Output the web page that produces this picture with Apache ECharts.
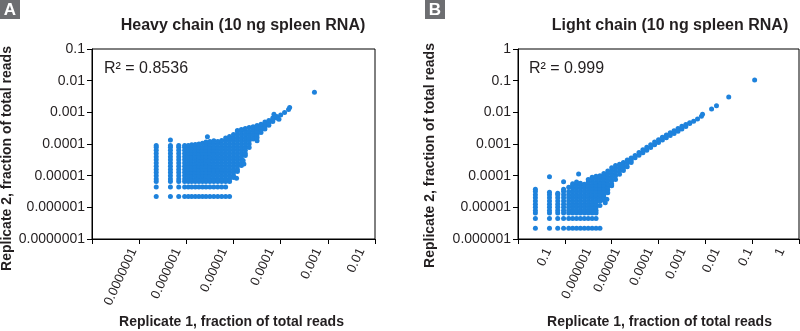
<!DOCTYPE html>
<html>
<head>
<meta charset="utf-8">
<script src="https://cdn.jsdelivr.net/npm/echarts@6/dist/echarts.min.js"></script>
<style>
  html, body { margin: 0; padding: 0; background: #fff; }
  #chart { width: 800px; height: 331px; }
</style>
</head>
<body>
<div id="chart"></div>
<script>
// Replicate read fractions, grouped by Replicate 1 value: [x, [y values...]]
const heavyColumns = [
  [2.3e-6, [2.2e-6, 4.4e-6, 6.6e-6, 7.9e-6, 1e-5, 1.26e-5, 1.58e-5, 2e-5, 2.51e-5, 3.16e-5, 3.98e-5, 5.01e-5, 6.31e-5, 7.94e-5, 9e-5]],
  [4.6e-6, [2.2e-6, 4.4e-6, 6.6e-6, 7.9e-6, 1e-5, 1.26e-5, 1.58e-5, 2e-5, 2.51e-5, 3.16e-5, 3.98e-5, 5.01e-5, 6.31e-5, 7.94e-5, 9e-5, 1.34e-4]],
  [6.9e-6, [2.2e-6, 4.4e-6, 6.6e-6, 7.9e-6, 1e-5, 1.26e-5, 1.58e-5, 2e-5, 2.51e-5, 3.16e-5, 3.98e-5, 5.01e-5, 6.31e-5, 7.94e-5, 9e-5]],
  [9.2e-6, [2.2e-6, 4.4e-6, 6.6e-6, 7.9e-6, 1e-5, 1.26e-5, 1.58e-5, 2e-5, 2.51e-5, 3.16e-5, 3.98e-5, 5.01e-5, 6.31e-5, 7.94e-5, 8.9e-5]],
  [1.1e-5, [2.2e-6, 4.4e-6, 6.6e-6, 7.9e-6, 1e-5, 1.26e-5, 1.58e-5, 2e-5, 2.51e-5, 3.16e-5, 3.98e-5, 5.01e-5, 6.31e-5, 7.94e-5, 8.9e-5]],
  [1.3e-5, [2.2e-6, 4.4e-6, 6.6e-6, 7.9e-6, 1e-5, 1.26e-5, 1.58e-5, 2e-5, 2.51e-5, 3.16e-5, 3.98e-5, 5.01e-5, 6.31e-5, 7.94e-5, 9.4e-5]],
  [1.55e-5, [2.2e-6, 4.4e-6, 6.6e-6, 7.9e-6, 1e-5, 1.26e-5, 1.58e-5, 2e-5, 2.51e-5, 3.16e-5, 3.98e-5, 5.01e-5, 6.31e-5, 7.94e-5, 9.7e-5]],
  [1.85e-5, [2.2e-6, 4.4e-6, 6.6e-6, 7.9e-6, 1e-5, 1.26e-5, 1.58e-5, 2e-5, 2.51e-5, 3.16e-5, 3.98e-5, 5.01e-5, 6.31e-5, 7.94e-5, 1e-4]],
  [2.2e-5, [2.2e-6, 4.4e-6, 6.6e-6, 7.9e-6, 1e-5, 1.26e-5, 1.58e-5, 2e-5, 2.51e-5, 3.16e-5, 3.98e-5, 5.01e-5, 6.31e-5, 7.94e-5, 1.05e-4]],
  [2.61e-5, [2.2e-6, 4.4e-6, 6.6e-6, 7.9e-6, 1e-5, 1.26e-5, 1.58e-5, 2e-5, 2.51e-5, 3.16e-5, 3.98e-5, 5.01e-5, 6.31e-5, 7.94e-5, 1e-4, 1.15e-4]],
  [3.16e-5, [2.2e-6, 4.4e-6, 6.6e-6, 7.9e-6, 1e-5, 1.26e-5, 1.58e-5, 2e-5, 2.51e-5, 3.16e-5, 3.98e-5, 5.01e-5, 6.31e-5, 7.94e-5, 1e-4, 1.2e-4]],
  [3.83e-5, [2.2e-6, 4.4e-6, 6.6e-6, 7.9e-6, 1e-5, 1.26e-5, 1.58e-5, 2e-5, 2.51e-5, 3.16e-5, 3.98e-5, 5.01e-5, 6.31e-5, 7.94e-5, 1e-4, 1.26e-4]],
  [4.64e-5, [2.2e-6, 4.4e-6, 6.6e-6, 7.9e-6, 1e-5, 1.26e-5, 1.58e-5, 2e-5, 2.51e-5, 3.16e-5, 3.98e-5, 5.01e-5, 6.31e-5, 7.94e-5, 1e-4, 1.2e-4]],
  [5.62e-5, [2.2e-6, 4.4e-6, 6.6e-6, 7.9e-6, 1e-5, 1.26e-5, 1.58e-5, 2e-5, 2.51e-5, 3.16e-5, 3.98e-5, 5.01e-5, 6.31e-5, 7.94e-5, 1e-4, 1.29e-4]],
  [6.81e-5, [2.2e-6, 4.4e-6, 6.6e-6, 7.9e-6, 1e-5, 1.26e-5, 1.58e-5, 2e-5, 2.51e-5, 3.16e-5, 3.98e-5, 5.01e-5, 6.31e-5, 7.94e-5, 1e-4, 1.26e-4, 1.55e-4]],
  [8.25e-5, [2.2e-6, 6.6e-6, 7.9e-6, 1e-5, 1.26e-5, 1.58e-5, 2e-5, 2.51e-5, 3.16e-5, 3.98e-5, 5.01e-5, 6.31e-5, 7.94e-5, 1e-4, 1.26e-4, 1.5e-4, 1.73e-4]],
  [1e-4, [8.75e-6, 1e-5, 1.26e-5, 1.58e-5, 2e-5, 2.51e-5, 3.16e-5, 3.98e-5, 5.01e-5, 6.31e-5, 7.94e-5, 1e-4, 1.26e-4, 1.58e-4, 2e-4]],
  [1.21e-4, [1.35e-5, 1.58e-5, 2e-5, 2.51e-5, 3.16e-5, 3.98e-5, 5.01e-5, 6.31e-5, 7.94e-5, 1e-4, 1.26e-4, 1.58e-4, 2e-4, 2.51e-4, 2.67e-4]],
  [1.47e-4, [2.09e-5, 2.51e-5, 3.16e-5, 3.98e-5, 5.01e-5, 6.31e-5, 7.94e-5, 1e-4, 1.26e-4, 1.58e-4, 2e-4, 2.51e-4, 2.87e-4]],
  [1.78e-4, [4.33e-5, 5.01e-5, 6.31e-5, 7.94e-5, 1e-4, 1.26e-4, 1.58e-4, 2e-4, 2.51e-4, 3.08e-4]],
  [2.15e-4, [7.7e-5, 1e-4, 1.26e-4, 1.58e-4, 2e-4, 2.51e-4, 3.3e-4]],
  [2.61e-4, [1.44e-4, 1.58e-4, 2e-4, 2.51e-4, 3e-4, 3.49e-4]],
  [3.16e-4, [1.27e-4, 1.6e-4, 2e-4, 2.51e-4, 3.16e-4, 3.84e-4]],
  [3.83e-4, [2.3e-4, 2.8e-4, 3.4e-4, 4.2e-4]],
  [4.64e-4, [2.97e-4, 3.6e-4, 4.3e-4, 4.95e-4]],
  [5.62e-4, [3.92e-4, 4.6e-4, 5.5e-4]],
  [6.81e-4, [5.1e-4, 5.9e-4, 6.6e-4]],
  [8.25e-4, [6.6e-4, 7.4e-4]],
  [1e-3, [8.2e-4]],
  [1.21e-3, [9.9e-4]],
  [1.47e-3, [1.23e-3]]
];
const heavyOutliers = [
  [1.55e-3, 1.42e-3], [5.2e-3, 4.3e-3], [2.8e-5, 1.7e-4], [1.16e-4, 8.3e-6],
  [1.66e-4, 2.33e-5], [1.6e-4, 3e-5], [9.2e-4, 6e-4], [7.2e-4, 8.65e-4]
];

const lightColumns = [
  [2.35e-6, [2.2e-6, 4.4e-6, 6.6e-6, 7.9e-6, 1e-5, 1.26e-5, 1.58e-5, 2e-5, 2.51e-5, 3.16e-5, 3.7e-5]],
  [4.7e-6, [2.2e-6, 4.4e-6, 6.6e-6, 7.9e-6, 1e-5, 1.26e-5, 1.58e-5, 2e-5, 2.51e-5, 3e-5, 9.3e-5]],
  [7.05e-6, [2.2e-6, 4.4e-6, 6.6e-6, 7.9e-6, 1e-5, 1.26e-5, 1.58e-5, 2e-5, 2.51e-5, 2.8e-5]],
  [9.4e-6, [2.2e-6, 4.4e-6, 6.6e-6, 7.9e-6, 1e-5, 1.26e-5, 1.58e-5, 2e-5, 2.51e-5, 3.16e-5, 3.7e-5, 6.4e-5]],
  [1.21e-5, [2.2e-6, 4.4e-6, 6.6e-6, 7.9e-6, 1e-5, 1.26e-5, 1.58e-5, 2e-5, 2.51e-5, 3.16e-5, 4.3e-5]],
  [1.47e-5, [2.2e-6, 4.4e-6, 6.6e-6, 7.9e-6, 1e-5, 1.26e-5, 1.58e-5, 2e-5, 2.51e-5, 3.16e-5, 3.98e-5, 5.01e-5, 5.6e-5]],
  [1.78e-5, [2.2e-6, 4.4e-6, 6.6e-6, 7.9e-6, 1e-5, 1.26e-5, 1.58e-5, 2e-5, 2.51e-5, 3.16e-5, 3.98e-5, 5.01e-5, 6.31e-5]],
  [2.15e-5, [2.2e-6, 4.4e-6, 6.6e-6, 7.9e-6, 1e-5, 1.26e-5, 1.58e-5, 2e-5, 2.51e-5, 3.16e-5, 3.98e-5, 5.01e-5, 5.8e-5]],
  [2.61e-5, [2.2e-6, 4.4e-6, 6.6e-6, 7.9e-6, 1e-5, 1.26e-5, 1.58e-5, 2e-5, 2.51e-5, 3.16e-5, 3.98e-5, 5.01e-5, 5.4e-5]],
  [3.16e-5, [2.2e-6, 4.4e-6, 6.6e-6, 7.9e-6, 1e-5, 1.26e-5, 1.58e-5, 2e-5, 2.51e-5, 3.16e-5, 3.98e-5, 5.01e-5, 6.31e-5, 7.6e-5]],
  [3.83e-5, [2.2e-6, 4.4e-6, 6.6e-6, 7.9e-6, 1e-5, 1.26e-5, 1.58e-5, 2e-5, 2.51e-5, 3.16e-5, 3.98e-5, 5.01e-5, 6.31e-5, 7.94e-5, 8.9e-5]],
  [4.64e-5, [2.2e-6, 4.4e-6, 6.6e-6, 7.9e-6, 1e-5, 1.26e-5, 1.58e-5, 2e-5, 2.51e-5, 3.16e-5, 3.98e-5, 5.01e-5, 6.31e-5, 7.94e-5, 9.5e-5]],
  [5.62e-5, [2.2e-6, 1.15e-5, 1.58e-5, 2e-5, 2.51e-5, 3.16e-5, 3.98e-5, 5.01e-5, 6.31e-5, 7.94e-5, 1e-4]],
  [6.81e-5, [1.66e-5, 2e-5, 2.51e-5, 3.16e-5, 3.98e-5, 5.01e-5, 6.31e-5, 7.94e-5, 1e-4, 1.17e-4]],
  [8.25e-5, [2.9e-5, 3.6e-5, 4.5e-5, 5.6e-5, 7.1e-5, 8.9e-5, 1.12e-4, 1.41e-4]],
  [1e-4, [4.8e-5, 5.5e-5, 6.9e-5, 8.7e-5, 1.1e-4, 1.4e-4, 1.78e-4]],
  [1.21e-4, [7.5e-5, 1e-4, 1.3e-4, 1.65e-4, 2.1e-4]],
  [1.47e-4, [1.1e-4, 1.4e-4, 1.8e-4, 2.3e-4]],
  [1.78e-4, [1.45e-4, 1.75e-4, 2.1e-4, 2.6e-4]],
  [2.15e-4, [1.9e-4, 2.5e-4, 3.1e-4]],
  [2.61e-4, [2.6e-4, 3e-4, 3.6e-4]],
  [3.16e-4, [3.67e-4, 4.3e-4]],
  [3.83e-4, [4.42e-4, 5.43e-4]],
  [4.64e-4, [5.32e-4, 6.54e-4]],
  [5.62e-4, [6.4e-4, 7.87e-4]],
  [6.81e-4, [7.76e-4, 9.54e-4]],
  [8.25e-4, [9.47e-4, 1.16e-3]],
  [1e-3, [1.11e-3, 1.36e-3]],
  [1.21e-3, [1.33e-3, 1.63e-3]],
  [1.47e-3, [1.57e-3, 1.93e-3]],
  [1.78e-3, [1.84e-3, 2.26e-3]],
  [2.15e-3, [2.14e-3, 2.63e-3]],
  [2.61e-3, [2.53e-3, 3.1e-3]],
  [3.16e-3, [2.98e-3, 3.66e-3]],
  [3.83e-3, [3.6e-3, 4.1e-3]],
  [4.64e-3, [4.4e-3, 4.7e-3]],
  [5.62e-3, [5.2e-3]],
  [6.81e-3, [6.2e-3]],
  [8.25e-3, [7.5e-3]]
];
const lightOutliers = [
  [8.7e-3, 8.65e-3], [1.36e-2, 1.27e-2], [1.73e-2, 1.62e-2], [3.16e-2, 3.05e-2],
  [0.113, 0.105], [1.97e-5, 1.13e-4], [7.3e-5, 1.4e-5], [7.9e-5, 1.8e-5]
];

// Tick label texts
const heavyYLabels = ['0.0000001', '0.000001', '0.00001', '0.0001', '0.001', '0.01', '0.1'];
const lightYLabels = ['0.000001', '0.00001', '0.0001', '0.001', '0.01', '0.1', '1'];
const heavyXLabels = ['0.0000001', '0.000001', '0.00001', '0.0001', '0.001', '0.01'];
const lightXLabels = ['0.1', '0.000001', '0.00001', '0.0001', '0.001', '0.01', '0.1', '1'];

// Panel texts
const panelTitles = ['Heavy chain (10 ng spleen RNA)', 'Light chain (10 ng spleen RNA)'];
const rSquared = ['R\u00b2 = 0.8536', 'R\u00b2 = 0.999'];
const xTitle = 'Replicate 1, fraction of total reads';
const yTitle = 'Replicate 2, fraction of total reads';

// Layout: where the rotated x labels sit, in decades along each panel's x axis
const heavyXLabelSpots = [-6.117, -5.181, -4.202, -3.202, -2.202, -1.287];
const lightXLabelSpots = [-5.351, -4.5, -3.883, -3.181, -2.479, -1.755, -1.053, -0.372];

const FONT = '"Liberation Sans", Arial, Helvetica, sans-serif';
const INK = '#231f20';
const DOT = '#1e82dc';

function flatten(cols, extra) {
  const pts = [];
  cols.forEach(([x, ys]) => ys.forEach(y => pts.push([x, y])));
  return pts.concat(extra);
}

function nearestIndex(list, v) {
  let best = 0;
  for (let i = 1; i < list.length; i++) {
    if (Math.abs(list[i] - v) < Math.abs(list[best] - v)) best = i;
  }
  return best;
}

function logAxis(gridIndex, min, max, extra) {
  return Object.assign({
    type: 'log', logBase: 10, gridIndex, min, max,
    axisLine: { show: true, onZero: false, lineStyle: { color: '#000', width: 1 } },
    axisTick: { show: true, inside: false, length: 5, lineStyle: { color: '#000', width: 1 } },
    splitLine: { show: false },
    minorTick: { show: false }
  }, extra);
}

function labelAxis(gridIndex, min, max, spots, texts) {
  return {
    type: 'value', gridIndex, min, max, position: 'bottom',
    axisLine: { show: false, onZero: false },
    axisTick: { show: false },
    splitLine: { show: false },
    axisLabel: {
      show: true, rotate: 65, margin: 10,
      customValues: spots,
      color: INK, fontFamily: FONT, fontSize: 13,
      formatter: v => texts[nearestIndex(spots, v)]
    }
  };
}

const chart = echarts.init(document.getElementById('chart'), null, { renderer: 'canvas', width: 800, height: 331 });

chart.setOption({
  animation: false,
  backgroundColor: '#fff',
  grid: [
    { left: 92, top: 49, width: 283, height: 190, show: true, borderColor: '#000', borderWidth: 1, backgroundColor: 'transparent', containLabel: false, outerBoundsMode: 'none' },
    { left: 518, top: 49, width: 281, height: 190, show: true, borderColor: '#000', borderWidth: 1, backgroundColor: 'transparent', containLabel: false, outerBoundsMode: 'none' }
  ],
  xAxis: [
    logAxis(0, 1e-7, 1e-1, { position: 'bottom', interval: 1, axisLabel: { show: false } }),
    logAxis(1, 1e-6, 1, { position: 'bottom', interval: 1, axisLabel: { show: false } }),
    labelAxis(0, -7, -1, heavyXLabelSpots, heavyXLabels),
    labelAxis(1, -6, 0, lightXLabelSpots, lightXLabels)
  ],
  yAxis: [
    logAxis(0, 1e-7, 1e-1, {
      position: 'left', interval: 1,
      axisLabel: {
        show: true, margin: 7, color: INK, fontFamily: FONT, fontSize: 14,
        formatter: v => heavyYLabels[Math.round(Math.log10(v)) + 7]
      }
    }),
    logAxis(1, 1e-6, 1, {
      position: 'left', interval: 1,
      axisLabel: {
        show: true, margin: 7, color: INK, fontFamily: FONT, fontSize: 14,
        formatter: v => lightYLabels[Math.round(Math.log10(v)) + 6]
      }
    })
  ],
  series: [
    {
      type: 'scatter', xAxisIndex: 0, yAxisIndex: 0,
      data: flatten(heavyColumns, heavyOutliers),
      symbol: 'circle', symbolSize: 5, silent: true,
      itemStyle: { color: DOT, opacity: 1 }
    },
    {
      type: 'scatter', xAxisIndex: 1, yAxisIndex: 1,
      data: flatten(lightColumns, lightOutliers),
      symbol: 'circle', symbolSize: 5, silent: true,
      itemStyle: { color: DOT, opacity: 1 }
    }
  ],
  graphic: [
    { type: 'rect', shape: { x: 0, y: 0, width: 20, height: 19 }, style: { fill: '#6d6e71' } },
    { type: 'text', x: 10, y: 10, style: { text: 'A', fill: '#fff', font: 'bold 17px ' + FONT, align: 'center', verticalAlign: 'middle' } },
    { type: 'rect', shape: { x: 425, y: 0, width: 20, height: 19 }, style: { fill: '#6d6e71' } },
    { type: 'text', x: 435, y: 10, style: { text: 'B', fill: '#fff', font: 'bold 17px ' + FONT, align: 'center', verticalAlign: 'middle' } },

    { type: 'text', x: 243, y: 26, style: { text: panelTitles[0], fill: INK, font: 'bold 16px ' + FONT, align: 'center', verticalAlign: 'middle' } },
    { type: 'text', x: 670, y: 26, style: { text: panelTitles[1], fill: INK, font: 'bold 16px ' + FONT, align: 'center', verticalAlign: 'middle' } },

    { type: 'text', x: 104, y: 69, style: { text: rSquared[0], fill: INK, font: '16px ' + FONT, align: 'left', verticalAlign: 'middle' } },
    { type: 'text', x: 529, y: 69, style: { text: rSquared[1], fill: INK, font: '16px ' + FONT, align: 'left', verticalAlign: 'middle' } },

    { type: 'text', x: 231.5, y: 322, style: { text: xTitle, fill: INK, font: 'bold 14px ' + FONT, align: 'center', verticalAlign: 'middle' } },
    { type: 'text', x: 659.5, y: 322, style: { text: xTitle, fill: INK, font: 'bold 14px ' + FONT, align: 'center', verticalAlign: 'middle' } },

    { type: 'text', x: 7, y: 158.5, rotation: Math.PI / 2, style: { text: yTitle, fill: INK, font: 'bold 14px ' + FONT, align: 'center', verticalAlign: 'middle' } },
    { type: 'text', x: 430, y: 155.5, rotation: Math.PI / 2, style: { text: yTitle, fill: INK, font: 'bold 14px ' + FONT, align: 'center', verticalAlign: 'middle' } }
  ]
});
</script>
</body>
</html>
